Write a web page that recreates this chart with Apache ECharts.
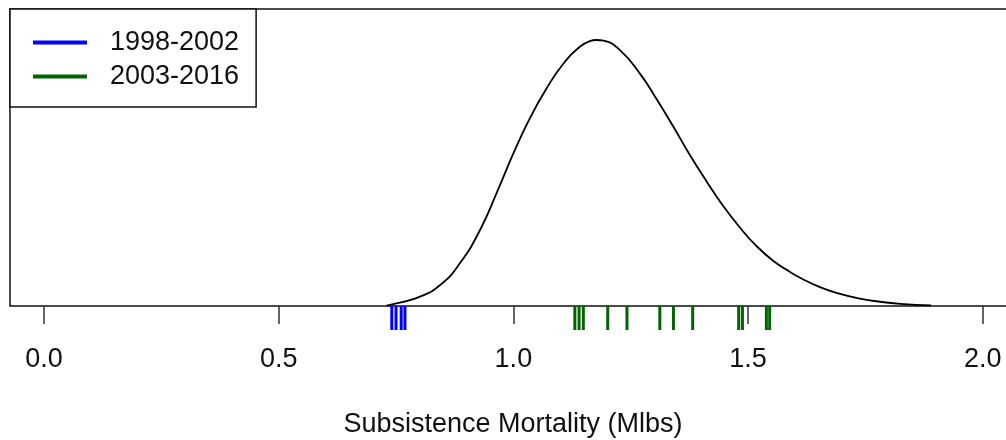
<!DOCTYPE html>
<html lang="en">

<head>
  <meta charset="UTF-8">
  <title>index</title>
  <style>
    * {
      margin: 0;
      padding: 0;
    }

    body {
      background-color: #fff;
    }

    .chart01 {
      width: 1006px;
      height: 440px;
    }
  </style>
  <script src="https://cdn.jsdelivr.net/npm/echarts@6/dist/echarts.min.js"></script>
</head>

<body>
  <div class="chart01"></div>

  <script>
    // density curve
    var densX = [0.730, 0.758, 0.801, 0.844, 0.886, 0.929, 0.964, 1.000, 1.035, 1.071, 1.106, 1.142, 1.163,
      1.177, 1.192, 1.227, 1.270, 1.305, 1.341, 1.376, 1.412, 1.447, 1.483, 1.518, 1.554, 1.589, 1.611,
      1.653, 1.696, 1.738, 1.781, 1.824, 1.890]
    var densY = [0.004, 0.033, 0.094, 0.212, 0.431, 0.768, 1.138, 1.542, 1.896, 2.200, 2.445, 2.620, 2.676,
      2.687, 2.680, 2.585, 2.345, 2.090, 1.810, 1.525, 1.256, 1.010, 0.790, 0.605, 0.455, 0.345, 0.285,
      0.190, 0.122, 0.075, 0.043, 0.022, 0.006]

    // rug marks
    var rugEarly = [0.741, 0.750, 0.761, 0.769]
    var rugLate = [1.131, 1.140, 1.149, 1.201, 1.242, 1.312, 1.341, 1.382, 1.480, 1.488, 1.539, 1.546]

    var tickValues = [0, 0.5, 1, 1.5, 2]
    var names = ['1998-2002', '2003-2016']
    var font = "'Liberation Sans', Arial, sans-serif"

    function pairs(xs, ys) {
      return xs.map(function (x, i) { return [x, ys ? ys[i] : 0] })
    }

    function rug(params, api) {
      var p = api.coord([api.value(0), 0])
      return {
        type: 'line',
        shape: { x1: p[0], y1: p[1], x2: p[0], y2: p[1] + 24 },
        style: { stroke: api.visual('color'), lineWidth: 3 }
      }
    }

    var myChart = echarts.init(document.querySelector('.chart01'))

    var option = {
      animation: false,
      textStyle: { fontFamily: font },
      grid: {
        left: 10,
        top: 9,
        width: 1006,
        bottom: 134,
        outerBoundsMode: 'none',
        containLabel: false,
        show: true,
        borderColor: '#111',
        borderWidth: 1.5,
        backgroundColor: 'transparent'
      },
      legend: {
        left: 10,
        top: 9,
        orient: 'vertical',
        padding: [20, 17, 17, 23],
        itemGap: 7,
        itemWidth: 54,
        itemHeight: 4,
        backgroundColor: '#fff',
        borderColor: '#111',
        borderWidth: 1.5,
        borderRadius: 0,
        textStyle: {
          fontFamily: font,
          fontSize: 27,
          lineHeight: 27,
          color: '#111',
          padding: [0, 0, 0, 18]
        },
        data: [
          { name: names[0], icon: 'rect' },
          { name: names[1], icon: 'rect' }
        ]
      },
      xAxis: {
        type: 'value',
        min: -0.0724,
        max: 2.0708,
        name: 'Subsistence Mortality (Mlbs)',
        nameLocation: 'middle',
        nameGap: 105,
        nameTextStyle: { fontFamily: font, fontSize: 27, color: '#111' },
        axisLine: { show: false },
        splitLine: { show: false },
        axisTick: {
          show: true,
          length: 18,
          customValues: tickValues,
          lineStyle: { color: '#333', width: 1.5 }
        },
        axisLabel: {
          customValues: tickValues,
          margin: 40,
          fontFamily: font,
          fontSize: 27,
          color: '#111',
          formatter: function (v) { return v.toFixed(1) }
        }
      },
      yAxis: {
        type: 'value',
        min: 0,
        max: 3,
        show: false,
        splitLine: { show: false }
      },
      series: [
        {
          name: 'density',
          type: 'line',
          data: pairs(densX, densY),
          smooth: true,
          showSymbol: false,
          lineStyle: { color: '#000', width: 1.8 },
          itemStyle: { color: '#000' }
        },
        {
          name: names[0],
          type: 'custom',
          renderItem: rug,
          clip: false,
          itemStyle: { color: '#0000ff' },
          data: pairs(rugEarly)
        },
        {
          name: names[1],
          type: 'custom',
          renderItem: rug,
          clip: false,
          itemStyle: { color: '#006400' },
          data: pairs(rugLate)
        }
      ]
    };

    myChart.setOption(option);
  </script>
</body>

</html>
